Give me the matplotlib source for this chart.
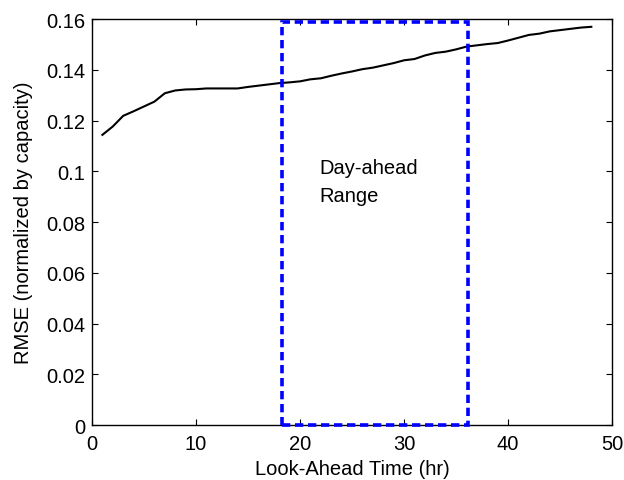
import matplotlib
matplotlib.use("Agg")
import matplotlib.pyplot as plt
from matplotlib.patches import Rectangle

plt.rcParams['font.family'] = ['Liberation Sans', 'DejaVu Sans']

hours = list(range(1, 49))
rmse = [0.1144, 0.1177, 0.1219, 0.1237, 0.1256, 0.1275, 0.1308, 0.1319,
        0.1323, 0.1324, 0.1327, 0.1327, 0.1327, 0.1327, 0.1333, 0.1338,
        0.1343, 0.1348, 0.1351, 0.1355, 0.1363, 0.1367, 0.1377, 0.1386,
        0.1394, 0.1403, 0.1409, 0.1418, 0.1427, 0.1438, 0.1443, 0.1457,
        0.1467, 0.1472, 0.1481, 0.1492, 0.1497, 0.1502, 0.1506, 0.1516,
        0.1527, 0.1538, 0.1543, 0.1552, 0.1557, 0.1562, 0.1567, 0.1570]

range_start, range_end, range_top = 18.3, 36.1, 0.159
label_lines = ["Day-ahead", "Range"]

x_ticks = [0, 10, 20, 30, 40, 50]
y_ticks = [0, 0.02, 0.04, 0.06, 0.08, 0.1, 0.12, 0.14, 0.16]
y_tick_labels = ["0", "0.02", "0.04", "0.06", "0.08", "0.1", "0.12", "0.14", "0.16"]

FS = 14.5

fig = plt.figure(figsize=(6.24, 4.81), dpi=100)
ax = fig.add_axes([0.1474, 0.1143, 0.8336, 0.8437])

ax.plot(hours, rmse, color='black', lw=1.5)

rect = Rectangle((range_start, 0), range_end - range_start, range_top,
                 fill=False, edgecolor='#0000ff', lw=2.6,
                 linestyle=(0, (2.3, 1.3)), clip_on=False, zorder=3)
ax.add_patch(rect)

ax.text(21.9, 0.1015, label_lines[0], fontsize=FS, va='center', ha='left')
ax.text(21.9, 0.0905, label_lines[1], fontsize=FS, va='center', ha='left')

ax.set_xlim(0, 50)
ax.set_ylim(0, 0.16)
ax.set_xticks(x_ticks)
ax.set_yticks(y_ticks)
ax.set_yticklabels(y_tick_labels)
ax.tick_params(direction='in', top=True, right=True, labelsize=FS, length=4)
ax.tick_params(axis='x', pad=6.5)
ax.tick_params(axis='y', pad=5)
for s in ax.spines.values():
    s.set_linewidth(1.0)

ax.set_xlabel("Look-Ahead Time (hr)", fontsize=FS, labelpad=4)
ax.set_ylabel("RMSE (normalized by capacity)", fontsize=FS, labelpad=9)

fig.savefig("out.png", dpi=100)
